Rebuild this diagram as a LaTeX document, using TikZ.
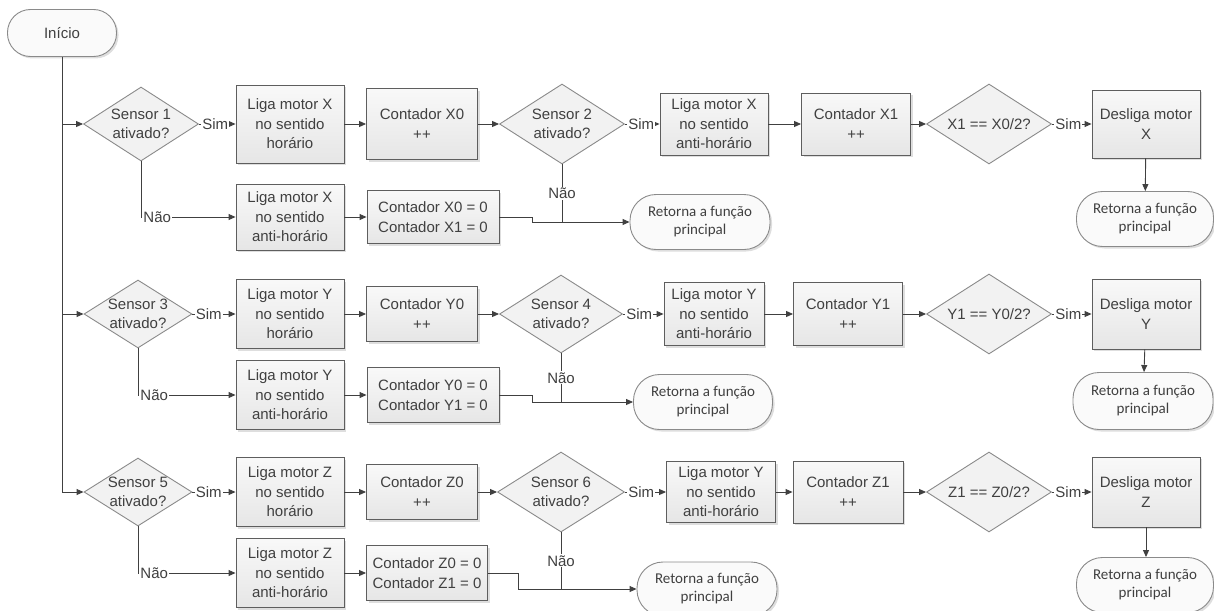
\documentclass[tikz,border=0pt]{standalone}
\usepackage{fontspec}
\setmainfont{Liberation Sans}
\newfontfamily\calfont{Carlito}
\usetikzlibrary{shapes.geometric,arrows.meta,shadows,calc}

\definecolor{boxfill}{HTML}{F2F2F2}
\definecolor{boxedge}{HTML}{5E5E5E}
\definecolor{diaedge}{HTML}{8A8A8A}
\definecolor{wire}{HTML}{404040}
\definecolor{ink}{HTML}{404040}
\definecolor{shade}{HTML}{C8C8C8}

\tikzset{
  x=1pt, y=-1pt,
  every node/.style={font=\fontsize{15}{19.5}\selectfont, text=ink, align=center, inner sep=0pt},
  procbox/.style={rectangle, draw=boxedge, line width=0.9pt, top color=white!50!boxfill, bottom color=boxfill!95!black,
    drop shadow={shadow xshift=2pt, shadow yshift=-2pt, fill=shade, opacity=0.6}},
  termbox/.style={rectangle, rounded corners=#1, draw=diaedge, line width=0.9pt, fill=white!60!boxfill,
    font=\calfont\fontsize{15}{18}\selectfont,
    drop shadow={shadow xshift=2pt, shadow yshift=-2pt, fill=shade, opacity=0.6}},
  termbox/.default=26pt,
  decision/.style={diamond, draw=diaedge, line width=0.9pt, fill=boxfill},
  wireline/.style={draw=wire, line width=0.9pt},
  arr/.style={wireline, -{Triangle[length=7pt,width=6pt]}},
  simlbl/.style={pos=0, anchor=west, xshift=2pt, fill=white, inner sep=1pt},
  naolbl/.style={fill=white, inner sep=1pt},
}

\newcommand{\boxat}[5]{\node[procbox, minimum width=#3, minimum height=#4] (#1) at #2 {#5};}
\newcommand{\decat}[5]{\node[decision, minimum width=#3, minimum height=#4] (#1) at #2 {};
  \node (#1t) at (#1) {#5};}

\begin{document}
\begin{tikzpicture}
\useasboundingbox (0,0) rectangle (1214,610);

% start
\node[termbox=23pt, minimum width=109, minimum height=47, font=\fontsize{15}{19.5}\selectfont] (start) at (62,33) {Início};

% ---------------- row X ----------------
\decat{dA}{(141,124)}{115}{74}{Sensor 1\\ativado?}
\boxat{bA1}{(290,124)}{108}{78}{Liga motor X\\no sentido\\horário}
\boxat{bA2}{(422,124)}{111}{71}{Contador X0\\++}
\decat{dB}{(562,124)}{125}{80}{Sensor 2\\ativado?}
\boxat{bA3}{(714,124)}{108}{62}{Liga motor X\\no sentido\\anti-horário}
\boxat{bA4}{(856,124)}{109}{62}{Contador X1\\++}
\decat{dC}{(989,124)}{125}{80}{X1 == X0/2?}
\boxat{bA5}{(1146,124)}{108}{68}{Desliga motor\\X}
\node[termbox, minimum width=137, minimum height=55] (tA1) at (1145,219) {Retorna a função\\principal};
\boxat{nA}{(290,217)}{108}{66}{Liga motor X\\no sentido\\anti-horário}
\boxat{zA}{(433,217)}{132}{53}{Contador X0 = 0\\Contador X1 = 0}
\coordinate (jA) at (532,222);
\node[termbox, minimum width=140, minimum height=55] (tA2) at (700,222) {Retorna a função\\principal};

% ---------------- row Y ----------------
\decat{dD}{(138,314)}{108}{68}{Sensor 3\\ativado?}
\boxat{bB1}{(290,314)}{108}{69}{Liga motor Y\\no sentido\\horário}
\boxat{bB2}{(422,314)}{111}{55}{Contador Y0\\++}
\decat{dE}{(561,314)}{123}{78}{Sensor 4\\ativado?}
\boxat{bB3}{(714,314)}{100}{63}{Liga motor Y\\no sentido\\anti-horário}
\boxat{bB4}{(848,314)}{109}{63}{Contador Y1\\++}
\decat{dF}{(989,314)}{125}{80}{Y1 == Y0/2?}
\boxat{bB5}{(1146,314)}{108}{70}{Desliga motor\\Y}
\node[termbox, minimum width=140, minimum height=57] (tB1) at (1143,401) {Retorna a função\\principal};
\boxat{nB}{(290,395)}{108}{69}{Liga motor Y\\no sentido\\anti-horário}
\boxat{zB}{(433,395)}{132}{55}{Contador Y0 = 0\\Contador Y1 = 0}
\coordinate (jB) at (532,402);
\node[termbox, minimum width=139, minimum height=55] (tB2) at (703,402) {Retorna a função\\principal};

% ---------------- row Z ----------------
\decat{dG}{(138,492)}{108}{68}{Sensor 5\\ativado?}
\boxat{bC1}{(290,492)}{108}{69}{Liga motor Z\\no sentido\\horário}
\boxat{bC2}{(422,492)}{111}{55}{Contador Z0\\++}
\decat{dH}{(561,492)}{127}{80}{Sensor 6\\ativado?}
\boxat{bC3}{(721,492)}{109}{61}{Liga motor Y\\no sentido\\anti-horário}
\boxat{bC4}{(848,492)}{110}{62}{Contador Z1\\++}
\decat{dI}{(989,492)}{125}{80}{Z1 == Z0/2?}
\boxat{bC5}{(1146,492)}{108}{70}{Desliga motor\\Z}
\node[termbox, minimum width=137, minimum height=55] (tC1) at (1145,585) {Retorna a função\\principal};
\boxat{nC}{(290,573)}{108}{69}{Liga motor Z\\no sentido\\anti-horário}
\boxat{zC}{(427,573)}{121}{55}{Contador Z0 = 0\\Contador Z1 = 0}
\coordinate (jC) at (518,589);
\node[termbox, minimum width=140, minimum height=54] (tC2) at (707,589) {Retorna a função\\principal};

% ---------------- connectors ----------------
\coordinate (trunkend) at (start.south |- dG.west);
\draw[wireline] (start.south) -- (trunkend);
\draw[arr] (start.south |- dA.west) -- (dA.west);
\draw[arr] (start.south |- dD.west) -- (dD.west);
\draw[arr] (trunkend) -- (dG.west);

% row X
\draw[arr] (dA.east) -- node[simlbl]{Sim} (bA1.west);
\draw[arr] (bA1) -- (bA2);
\draw[arr] (bA2) -- (dB.west);
\draw[arr] (dB.east) -- node[simlbl]{Sim} (bA3.west);
\draw[arr] (bA3) -- (bA4);
\draw[arr] (bA4) -- (dC.west);
\draw[arr] (dC.east) -- node[simlbl]{Sim} (bA5.west);
\draw[arr] (bA5) -- (tA1);
\draw[arr] (dA.south) |- node[pos=0.5, anchor=west, xshift=1pt, naolbl]{Não} (nA.west);
\draw[arr] (nA) -- (zA);
\draw[arr] (zA.east) -| (jA) -- (tA2.west);
\draw[wireline] (dB.south) -- node[naolbl]{Não} (dB.south |- tA2.west);

% row Y
\draw[arr] (dD.east) -- node[simlbl]{Sim} (bB1.west);
\draw[arr] (bB1) -- (bB2);
\draw[arr] (bB2) -- (dE.west);
\draw[arr] (dE.east) -- node[simlbl]{Sim} (bB3.west);
\draw[arr] (bB3) -- (bB4);
\draw[arr] (bB4) -- (dF.west);
\draw[arr] (dF.east) -- node[simlbl]{Sim} (bB5.west);
\draw[arr] (bB5) -- (tB1);
\draw[arr] (dD.south) |- node[pos=0.5, anchor=west, xshift=1pt, naolbl]{Não} (nB.west);
\draw[arr] (nB) -- (zB);
\draw[arr] (zB.east) -| (jB) -- (tB2.west);
\draw[wireline] (dE.south) -- node[naolbl]{Não} (dE.south |- tB2.west);

% row Z
\draw[arr] (dG.east) -- node[simlbl]{Sim} (bC1.west);
\draw[arr] (bC1) -- (bC2);
\draw[arr] (bC2) -- (dH.west);
\draw[arr] (dH.east) -- node[simlbl]{Sim} (bC3.west);
\draw[arr] (bC3) -- (bC4);
\draw[arr] (bC4) -- (dI.west);
\draw[arr] (dI.east) -- node[simlbl]{Sim} (bC5.west);
\draw[arr] (bC5.south) -- (bC5.south |- tC1.north);
\draw[arr] (dG.south) |- node[pos=0.5, anchor=west, xshift=1pt, naolbl]{Não} (nC.west);
\draw[arr] (nC) -- (zC);
\draw[arr] (zC.east) -| (jC) -- (tC2.west);
\draw[wireline] (dH.south) -- node[naolbl]{Não} (dH.south |- tC2.west);
\end{tikzpicture}
\end{document}
